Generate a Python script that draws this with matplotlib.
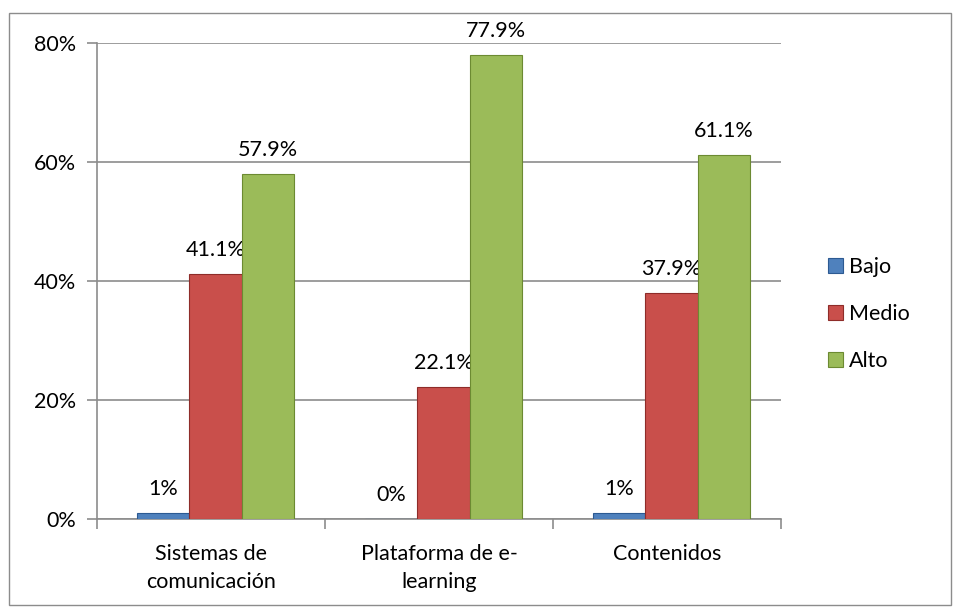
import numpy as np
import matplotlib
matplotlib.use("Agg")
import matplotlib.pyplot as plt
from matplotlib.patches import Rectangle

plt.rcParams['font.family'] = ['Lato', 'DejaVu Sans']

categories = ["Sistemas de\ncomunicación", "Plataforma de e-\nlearning", "Contenidos"]
series = ["Bajo", "Medio", "Alto"]
bajo = [1.0, 0.0, 1.0]
medio = [41.1, 22.1, 37.9]
alto = [57.9, 77.9, 61.1]
labels_bajo = ["1%", "0%", "1%"]
labels_medio = ["41.1%", "22.1%", "37.9%"]
labels_alto = ["57.9%", "77.9%", "61.1%"]

colors = ["#4F81BD", "#C94F4B", "#9BBB59"]
edges = ["#2C5A92", "#8E2C29", "#6C8A32"]

fs = 15.5

fig = plt.figure(figsize=(9.56, 6.09), dpi=100)
ax = fig.add_axes([0.1015, 0.1478, 0.7155, 0.7816])

# outer chart border
fig.patches.append(Rectangle((0.009, 0.007), 0.986, 0.972, transform=fig.transFigure,
                             fill=False, edgecolor="#8c8c8c", linewidth=1))

x = np.arange(len(categories))
w = 0.23
off = 0.02
for k, (vals, labs) in enumerate([(bajo, labels_bajo), (medio, labels_medio), (alto, labels_alto)]):
    pos = x + off + (k - 1) * w
    ax.bar(pos, vals, width=w, color=colors[k], edgecolor=edges[k], linewidth=0.8,
           label=series[k], zorder=3)
    for p, v, t in zip(pos, vals, labs):
        ax.text(p, v + 2.4, t, ha="center", va="bottom", fontsize=fs, color="black")

ax.set_xlim(-0.5, 2.5)
ax.set_ylim(0, 80)
ax.set_yticks([0, 20, 40, 60, 80])
ax.set_yticklabels(["0%", "20%", "40%", "60%", "80%"], fontsize=fs)
ax.yaxis.grid(True, color="#8c8c8c", linewidth=1.2, zorder=0)
ax.set_axisbelow(True)

ax.set_xticks(x)
ax.set_xticklabels(categories, fontsize=fs, linespacing=1.5)
ax.tick_params(axis="x", length=0, pad=18)
ax.set_xticks([-0.5, 0.5, 1.5, 2.5], minor=True)
ax.tick_params(axis="x", which="minor", length=7, color="#8c8c8c", width=1.2)
ax.tick_params(axis="y", length=7, color="#8c8c8c", width=1.2, pad=8)

for s in ["top", "right"]:
    ax.spines[s].set_visible(False)
ax.spines["left"].set_color("#8c8c8c")
ax.spines["bottom"].set_color("#8c8c8c")
ax.spines["left"].set_linewidth(1.2)
ax.spines["bottom"].set_linewidth(1.2)

ax.legend(loc="center left", bbox_to_anchor=(1.04, 0.43), frameon=False, fontsize=fs,
          handlelength=0.7, handleheight=0.7, handletextpad=0.3, labelspacing=1.25)

fig.savefig("out.png", dpi=100)
